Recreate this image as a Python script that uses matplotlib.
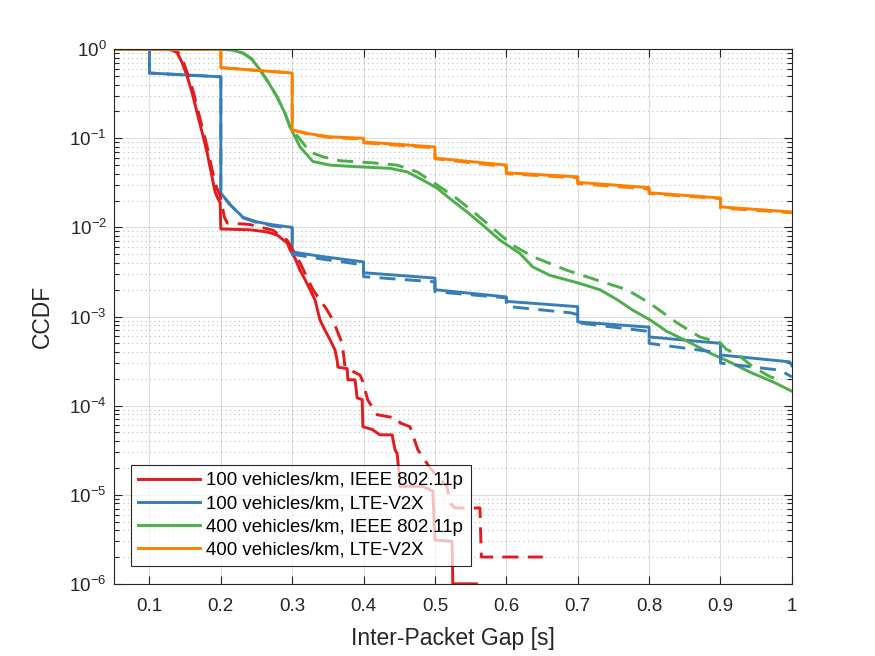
import numpy as np
import matplotlib
matplotlib.use("Agg")
import matplotlib.pyplot as plt
from matplotlib.ticker import LogLocator, FixedLocator, NullFormatter

# CCDF of inter-packet gap, solid = one model, dashed = the other

LABELS = [
    "100 vehicles/km, IEEE 802.11p",
    "100 vehicles/km, LTE-V2X",
    "400 vehicles/km, IEEE 802.11p",
    "400 vehicles/km, LTE-V2X",
]

X_TICKS = [0.1, 0.2, 0.3, 0.4, 0.5, 0.6, 0.7, 0.8, 0.9, 1.0]
X_TICK_LABELS = ["0.1", "0.2", "0.3", "0.4", "0.5", "0.6", "0.7", "0.8", "0.9", "1"]

# 100 veh/km, 802.11p
red_x = [0.05, 0.125, 0.133, 0.139, 0.146, 0.153, 0.160, 0.167, 0.174, 0.181, 0.185,
         0.192, 0.196, 0.199, 0.200, 0.241, 0.265, 0.279, 0.293, 0.297, 0.304, 0.311,
         0.318, 0.325, 0.332, 0.339, 0.346, 0.353, 0.360, 0.363, 0.364, 0.377, 0.378,
         0.388, 0.391, 0.398, 0.399, 0.412, 0.423, 0.440, 0.444, 0.447, 0.449, 0.451,
         0.483, 0.497, 0.500, 0.524, 0.525, 0.558]
red_y = [1.0, 1.0, 0.97, 0.905, 0.70, 0.49, 0.32, 0.19, 0.115, 0.068, 0.047,
         0.025, 0.021, 0.019, 0.0096, 0.0094, 0.0089, 0.0082, 0.0067, 0.0056, 0.0045, 0.0033,
         0.0026, 0.0020, 0.00153, 0.00091, 0.0007, 0.00055, 0.00042, 0.00032, 0.00027, 0.00026, 0.000195,
         0.000195, 0.000122, 0.000117, 5.8e-5, 5.4e-5, 4.7e-5, 4.7e-5, 3.2e-5, 2.9e-5, 2.0e-5, 1.24e-5,
         1.24e-5, 1.1e-5, 3.1e-6, 3.0e-6, 1e-6, 1e-6]
red_x2 = [0.05, 0.126, 0.135, 0.141, 0.148, 0.155, 0.162, 0.169, 0.176, 0.183, 0.187,
          0.194, 0.199, 0.205, 0.209, 0.240, 0.273, 0.293, 0.311, 0.329, 0.349, 0.357,
          0.370, 0.374, 0.395, 0.399, 0.406, 0.419, 0.448, 0.451, 0.465, 0.476, 0.493,
          0.517, 0.521, 0.528, 0.563, 0.565, 0.651]
red_y2 = [1.0, 1.0, 0.97, 0.905, 0.70, 0.49, 0.32, 0.19, 0.115, 0.068, 0.047,
          0.028, 0.023, 0.013, 0.0112, 0.0108, 0.0093, 0.0072, 0.0040, 0.0020, 0.00118, 0.00091,
          0.0005, 0.00027, 0.00022, 0.000185, 0.000115, 7.9e-5, 7.2e-5, 6.4e-5, 5.8e-5, 3.2e-5, 2.0e-5,
          1.23e-5, 8.1e-6, 7.1e-6, 7.1e-6, 2e-6, 2e-6]

# 100 veh/km, LTE-V2X
blue_x = [0.05, 0.1, 0.1, 0.2, 0.2, 0.213, 0.231, 0.251, 0.273, 0.3, 0.3, 0.343, 0.4, 0.4,
          0.5, 0.5, 0.6, 0.6, 0.7, 0.7, 0.8, 0.8, 0.9, 0.9, 0.997, 1.0]
blue_y = [1.0, 1.0, 0.54, 0.49, 0.0243, 0.018, 0.013, 0.0115, 0.0107, 0.0100, 0.0053, 0.0047,
          0.0041, 0.0031, 0.0027, 0.0020, 0.00166, 0.00148, 0.00129, 0.00087, 0.00076, 0.00059,
          0.0005, 0.00037, 0.00031, 0.00028]
blue_x2 = [0.05, 0.1, 0.1, 0.2, 0.2, 0.213, 0.231, 0.251, 0.273, 0.3, 0.3, 0.343, 0.4, 0.4,
           0.5, 0.5, 0.6, 0.6, 0.69, 0.7, 0.7, 0.8, 0.8, 0.9, 0.9, 0.983, 1.0]
blue_y2 = [1.0, 1.0, 0.54, 0.49, 0.0243, 0.018, 0.0128, 0.0113, 0.0104, 0.0097, 0.0050, 0.0044,
           0.0038, 0.0028, 0.00245, 0.0019, 0.00162, 0.0013, 0.0011, 0.00105, 0.00085, 0.00068,
           0.0005, 0.00039, 0.0003, 0.00025, 0.00021]

# 400 veh/km, 802.11p
green_x = [0.05, 0.2, 0.215, 0.231, 0.243, 0.255, 0.267, 0.279, 0.290, 0.297, 0.311, 0.329,
           0.353, 0.390, 0.437, 0.461, 0.483, 0.503, 0.521, 0.545, 0.567, 0.591, 0.619, 0.637,
           0.661, 0.699, 0.731, 0.755, 0.777, 0.801, 0.825, 0.853, 0.885, 0.909, 0.940, 0.974, 1.0]
green_y = [1.0, 1.0, 0.98, 0.906, 0.78, 0.585, 0.42, 0.29, 0.19, 0.134, 0.080, 0.055,
           0.050, 0.048, 0.046, 0.042, 0.034, 0.0276, 0.021, 0.0149, 0.0106, 0.0072, 0.0051, 0.0036,
           0.0029, 0.0024, 0.0020, 0.00155, 0.00118, 0.00092, 0.00068, 0.00053, 0.00039, 0.00032,
           0.00024, 0.000184, 0.000145]
green_x2 = [0.05, 0.2, 0.215, 0.231, 0.243, 0.255, 0.267, 0.279, 0.290, 0.297, 0.314, 0.325,
            0.343, 0.367, 0.413, 0.447, 0.475, 0.503, 0.531, 0.559, 0.587, 0.609, 0.637, 0.685,
            0.731, 0.769, 0.801, 0.839, 0.871, 0.899, 0.908, 0.925, 0.946, 0.970, 0.985]
green_y2 = [1.0, 1.0, 0.98, 0.906, 0.78, 0.585, 0.42, 0.29, 0.19, 0.134, 0.091, 0.070,
            0.062, 0.056, 0.053, 0.050, 0.042, 0.030, 0.021, 0.0138, 0.0089, 0.0063, 0.0047, 0.0033,
            0.0025, 0.0020, 0.00141, 0.00085, 0.00059, 0.00051, 0.00043, 0.00037, 0.00027, 0.00021,
            0.000195]

# 400 veh/km, LTE-V2X
orange_x = [0.05, 0.2, 0.2, 0.3, 0.3, 0.325, 0.353, 0.4, 0.4, 0.5, 0.5, 0.6, 0.6, 0.7, 0.7,
            0.8, 0.8, 0.9, 0.9, 1.0]
orange_y = [1.0, 1.0, 0.62, 0.54, 0.124, 0.112, 0.104, 0.10, 0.091, 0.080, 0.060, 0.050, 0.041,
            0.037, 0.032, 0.028, 0.0245, 0.0214, 0.017, 0.0149]
orange_y2 = [1.0, 1.0, 0.62, 0.54, 0.124, 0.110, 0.102, 0.098, 0.089, 0.078, 0.059, 0.048, 0.040,
             0.036, 0.031, 0.027, 0.024, 0.021, 0.0165, 0.0146]

COLORS = ["#E41A1C", "#377EB8", "#4DAF4A", "#FF7F00"]
AX_COLOR = "#262626"

plt.rcParams["font.family"] = ["Liberation Sans", "DejaVu Sans"]
plt.rcParams["mathtext.fontset"] = "custom"
plt.rcParams["mathtext.rm"] = "Liberation Sans"
plt.rcParams["mathtext.it"] = "Liberation Sans:italic"
plt.rcParams["mathtext.default"] = "regular"

fig = plt.figure(figsize=(8.75, 6.56), dpi=100)
ax = fig.add_axes([0.13, 0.11, 0.775, 0.815])

solid = [(red_x, red_y), (blue_x, blue_y), (green_x, green_y), (orange_x, orange_y)]
dashed = [(red_x2, red_y2), (blue_x2, blue_y2), (green_x2, green_y2), (orange_x, orange_y2)]

lw = 2.1
handles = []
for (x, y), c, lab in zip(solid, COLORS, LABELS):
    h, = ax.plot(x, y, color=c, lw=lw, label=lab)
    handles.append(h)
for (x, y), c in zip(dashed, COLORS):
    ax.plot(x, y, color=c, lw=lw, linestyle=(0, (5.5, 3.2)))

ax.set_yscale("log")
ax.set_xlim(0.05, 1.0)
ax.set_ylim(1e-6, 1.0)
ax.xaxis.set_major_locator(FixedLocator(X_TICKS))
ax.set_xticklabels(X_TICK_LABELS)
ax.yaxis.set_major_locator(LogLocator(base=10, numticks=10))
ax.yaxis.set_minor_locator(LogLocator(base=10, subs=np.arange(2, 10), numticks=20))
ax.yaxis.set_minor_formatter(NullFormatter())

ax.set_axisbelow(True)
ax.grid(True, which="major", color=AX_COLOR, alpha=0.15, lw=0.8)
ax.grid(True, which="minor", axis="y", color=AX_COLOR, alpha=0.3, lw=0.8,
        linestyle=(0, (1, 3)))

for s in ax.spines.values():
    s.set_color(AX_COLOR)
    s.set_linewidth(0.8)
ax.tick_params(which="both", direction="in", top=True, right=True, colors=AX_COLOR,
               width=0.8, labelsize=13.5)
ax.tick_params(which="major", length=6)
ax.tick_params(which="minor", length=3.5)
ax.tick_params(axis="x", pad=10)
ax.tick_params(axis="y", pad=5)

ax.set_xlabel("Inter-Packet Gap [s]", fontsize=16.5, color=AX_COLOR, labelpad=9)
ax.set_ylabel("CCDF", fontsize=16.5, color=AX_COLOR, labelpad=11)

leg = ax.legend(handles=handles, loc="lower left", bbox_to_anchor=(0.025, 0.033),
                borderaxespad=0, fontsize=13.4, handlelength=3.3, handletextpad=0.36,
                labelspacing=0.33, borderpad=0.4, fancybox=False, frameon=True)
frame = leg.get_frame()
frame.set_alpha(None)
frame.set_facecolor((1, 1, 1, 0.72))
frame.set_edgecolor(AX_COLOR)
frame.set_linewidth(0.8)

fig.savefig("out.png", dpi=100)
